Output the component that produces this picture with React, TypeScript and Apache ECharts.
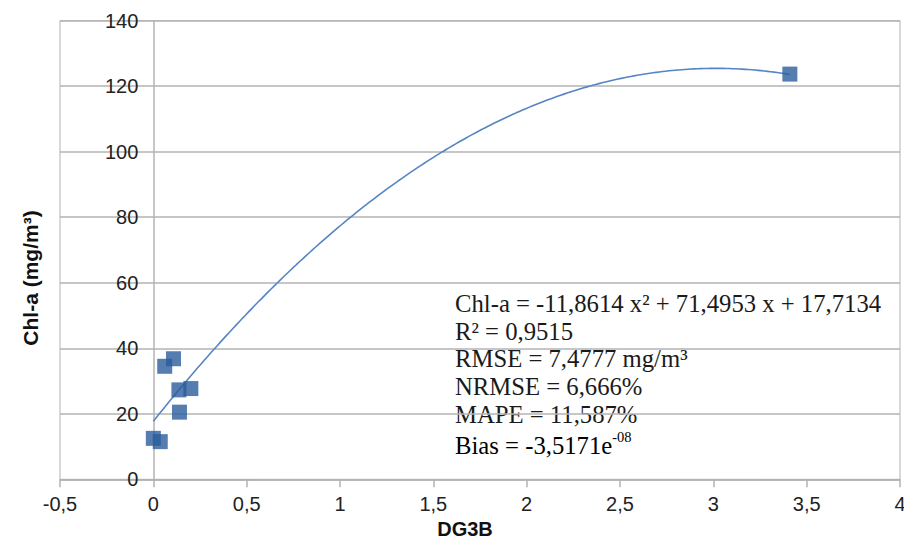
import React, { useEffect, useRef } from "react";
import * as echarts from "echarts";

// Observed data (DG3B vs Chl-a)
const dg3b = [0, 0.037, 0.061, 0.108, 0.137, 0.14, 0.201, 3.41];
const chla = [12.5, 11.5, 34.5, 36.8, 27.3, 20.5, 27.7, 123.7];

// Trend line coefficients as printed on the chart
const coefA = -11.8614;
const coefB = 71.4953;
const coefC = 17.7134;
const trendStart = 0;
const trendEnd = 3.41;

const xTicks = { min: -0.5, max: 4, interval: 0.5 };
const yTicks = { min: 0, max: 140, interval: 20 };

const statLines = [
  "Chl-a = -11,8614 x² + 71,4953 x + 17,7134",
  "R² = 0,9515",
  "RMSE = 7,4777 mg/m³",
  "NRMSE = 6,666%",
  "MAPE = 11,587%",
];
const biasMain = "Bias = -3,5171e";
const biasExp = "-08";

export default function App() {
  const ref = useRef<HTMLDivElement>(null);
  useEffect(() => {
    document.body.style.margin = "0";
    const chart = echarts.init(ref.current!, null, { renderer: "svg" });
    const points = dg3b.map((x, i) => [x, chla[i]]);
    const trend: number[][] = [];
    const steps = 200;
    for (let i = 0; i <= steps; i++) {
      const x = trendStart + ((trendEnd - trendStart) * i) / steps;
      trend.push([x, coefA * x * x + coefB * x + coefC]);
    }
    const grey = "#b3b3b3";
    const tickFont = "'Liberation Sans', Arial, sans-serif";
    const serif = "'Liberation Serif', 'Times New Roman', serif";
    const lineTop = 305.7;
    const lineStep = 27.6;
    const textColor = "#1a1a1a";
    const gridLeft = 60;
    const gridRight = 4;
    const plotW = 904 - gridLeft - gridRight;
    // place y-axis at x = 0 of the value scale
    const yAxisOffset = -((0 - xTicks.min) / (xTicks.max - xTicks.min)) * plotW;
    const graphics: any[] = statLines.map((t, i) => ({
      type: "text",
      left: 455,
      top: lineTop + i * lineStep - 14.5,
      style: {
        text: t,
        fontFamily: serif,
        fontSize: 24.7,
        fill: textColor,
      },
    }));
    graphics.push({
      type: "text",
      left: 455,
      top: lineTop + 5 * lineStep - 14.5,
      style: {
        text: `{m|${biasMain}}{s|${biasExp}}`,
        rich: {
          m: {
            fontFamily: serif,
            fontSize: 24.7,
            lineHeight: 29,
            color: textColor,
            verticalAlign: "bottom",
          },
          s: {
            fontFamily: serif,
            fontSize: 14.5,
            lineHeight: 29,
            color: textColor,
            verticalAlign: "top",
          },
        },
      },
    });
    chart.setOption({
      animation: false,
      backgroundColor: "#ffffff",
      grid: {
        left: gridLeft,
        right: gridRight,
        top: 20.7,
        bottom: 59.7,
        show: true,
        borderColor: grey,
        borderWidth: 1,
        outerBoundsMode: "none",
      },
      xAxis: {
        type: "value",
        min: xTicks.min,
        max: xTicks.max,
        interval: xTicks.interval,
        name: "DG3B",
        nameLocation: "middle",
        nameGap: 39,
        nameTextStyle: {
          fontFamily: "'Liberation Sans', Arial, sans-serif",
          fontWeight: "bold",
          fontSize: 20,
          lineHeight: 18,
          color: "#111",
          padding: [0, 30, 0, 0],
        },
        axisLine: { show: true, lineStyle: { color: grey, width: 1.5 } },
        axisTick: { show: true, length: 8, lineStyle: { color: grey, width: 1.5 } },
        splitLine: { show: false },
        axisLabel: {
          margin: 15,
          fontFamily: tickFont,
          fontSize: 20,
          color: "#222",
          formatter: (v: number) => String(v).replace(".", ","),
        },
      },
      yAxis: {
        type: "value",
        min: yTicks.min,
        max: yTicks.max,
        interval: yTicks.interval,
        offset: yAxisOffset,
        name: "Chl-a (mg/m³)",
        nameLocation: "middle",
        nameGap: 112,
        nameTextStyle: {
          fontFamily: "'Liberation Sans', Arial, sans-serif",
          fontWeight: "bold",
          fontSize: 21,
          color: "#111",
          padding: [0, 56, 0, 0],
        },
        axisLine: { show: true, onZero: false, lineStyle: { color: grey, width: 1.5 } },
        axisTick: { show: false },
        splitLine: { show: true, lineStyle: { color: grey, width: 1.5 } },
        axisLabel: {
          margin: 15,
          fontFamily: tickFont,
          fontSize: 20,
          color: "#222",
        },
      },
      series: [
        {
          type: "line",
          data: trend,
          showSymbol: false,
          symbol: "none",
          lineStyle: { color: "#5585c2", width: 1.6 },
          z: 2,
        },
        {
          type: "scatter",
          data: points,
          symbol: "rect",
          symbolSize: 15,
          itemStyle: { color: "#2a5d9b" },
          z: 3,
        },
      ],
      graphic: graphics,
    });
    return () => chart.dispose();
  }, []);
  return (
    <div
      ref={ref}
      style={{ position: "fixed", left: 0, top: 0, width: 904, height: 539 }}
    />
  );
}
